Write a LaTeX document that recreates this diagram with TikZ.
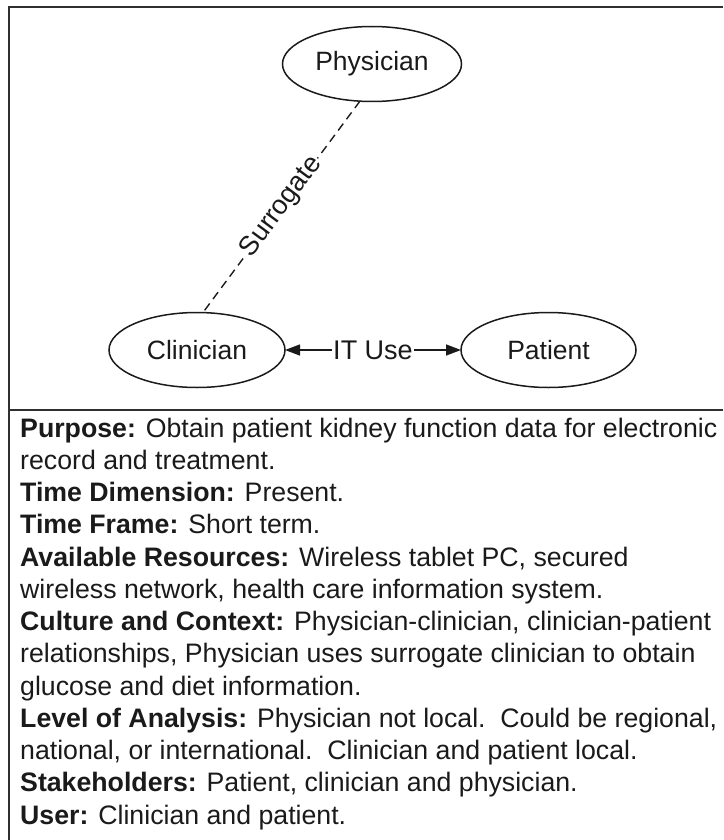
\documentclass[tikz,border=0pt]{standalone}
\usepackage{fontspec}
\setmainfont{Liberation Sans}
\usetikzlibrary{arrows.meta,shapes.geometric}

\definecolor{ink}{HTML}{1A1A1A}
\definecolor{frame}{HTML}{303030}

\tikzset{
  actor/.style={ellipse, draw=ink, line width=1.5pt, inner sep=0pt, outer sep=0pt,
    minimum width=#1, minimum height=75pt, text=ink,
    font=\fontsize{26.5}{30}\selectfont},
  actor/.default=177pt,
  link/.style={draw=ink, line width=1.4pt},
  surrogate/.style={link, dash pattern=on 8.5pt off 5.5pt},
  use/.style={link, {Triangle[length=15pt,width=11pt]}-{Triangle[length=15pt,width=11pt]}},
  tag/.style={fill=white, inner sep=1pt, text=ink, font=\fontsize{27}{30}\selectfont},
  rule/.style={draw=frame, line width=2.2pt},
  notes/.style={align=left, inner sep=0pt, text=ink,
    font=\fontsize{26.7}{32.25}\selectfont}
}

\begin{document}
\begin{tikzpicture}[x=1pt, y=-1pt]
  \useasboundingbox (0,0) rectangle (723,840);

  % frame and divider between diagram and notes
  \draw[rule] (723,7) -- (9,7) -- (9,840);
  \draw[rule] (9,410) -- (723,410);

  % actors
  \node[actor=179pt] (phy) at (372,64) {Physician};
  \node[actor=176pt] (cli) at (197,350) {Clinician};
  \node[actor=175pt] (pat) at (548.5,350) {Patient};

  % relations
  \draw[surrogate] (phy.252) -- node[tag, sloped] {Surrogate} (cli.81);
  \draw[use] (cli.east) -- node[tag] {IT Use} (pat.west);

  % scenario description (anchored on the baseline of its last line)
  \node[notes, anchor=base west] (desc) at (20,824) {%
    \textbf{Purpose:} Obtain patient kidney function data for electronic\\
    record and treatment.\\
    \textbf{Time Dimension:} Present.\\
    \textbf{Time Frame:} Short term.\\
    \textbf{Available Resources:} Wireless tablet PC, secured\\
    wireless network, health care information system.\\
    \textbf{Culture and Context:} Physician-clinician, clinician-patient\\
    relationships, Physician uses surrogate clinician to obtain\\
    glucose and diet information.\\
    \textbf{Level of Analysis:} Physician not local.\ \ Could be regional,\\
    national, or international.\ \ Clinician and patient local.\\
    \textbf{Stakeholders:} Patient, clinician and physician.\\
    \textbf{User:} Clinician and patient.};
\end{tikzpicture}
\end{document}
